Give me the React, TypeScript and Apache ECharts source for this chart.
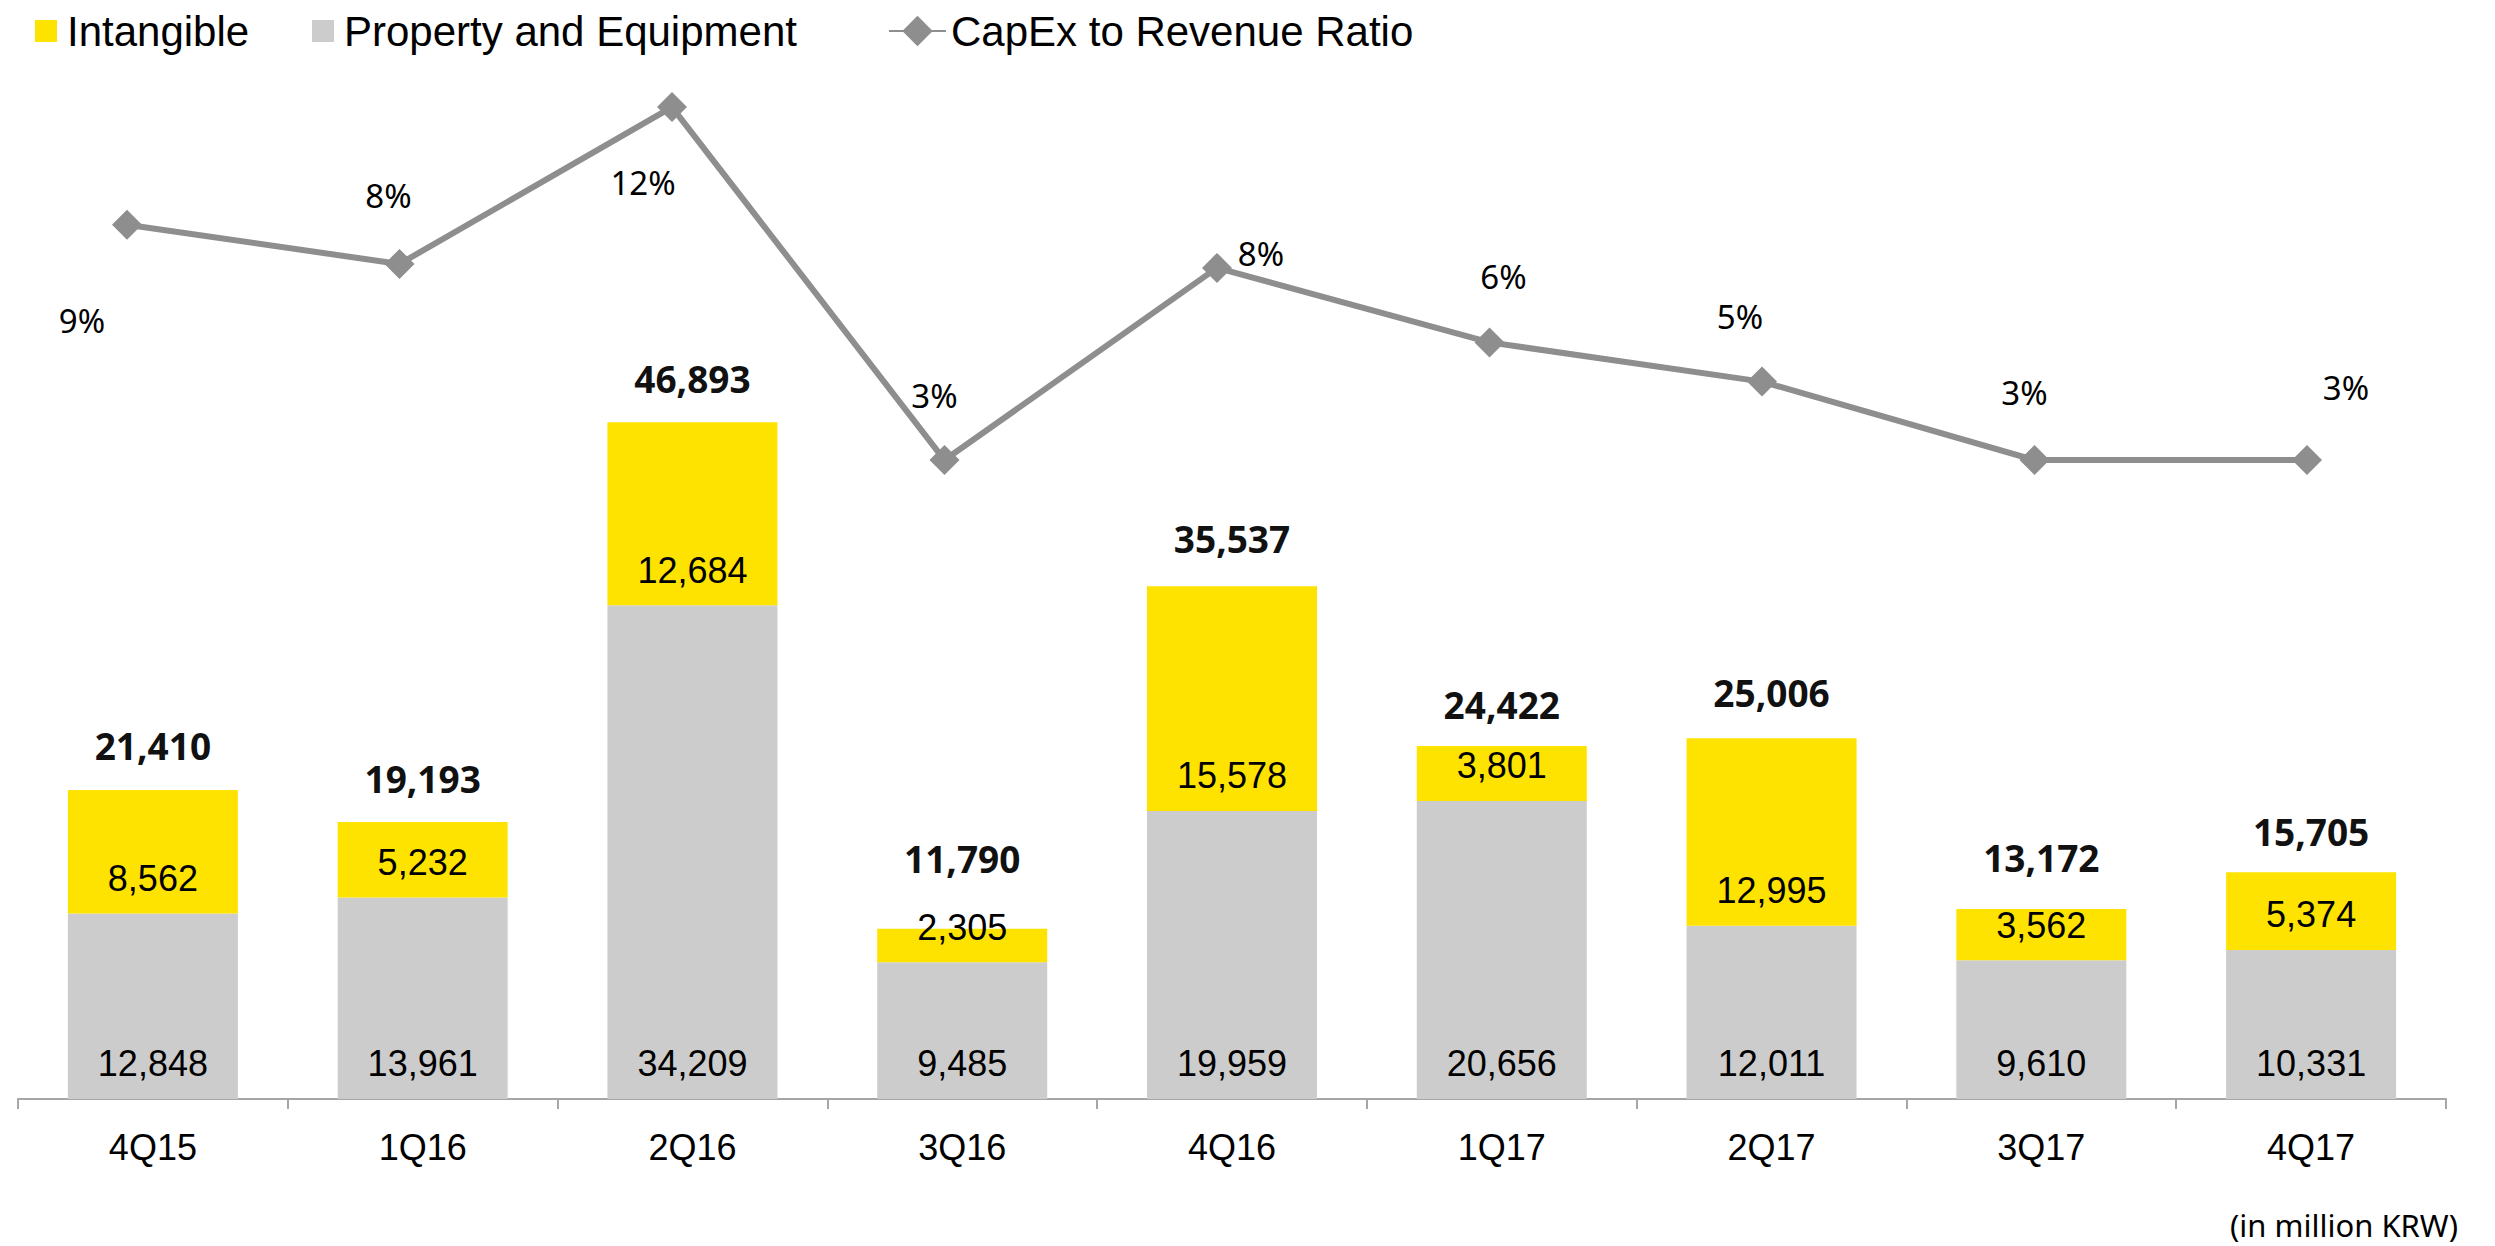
import React, { useEffect, useRef } from "react";
import * as echarts from "echarts";

const categories = ["4Q15", "1Q16", "2Q16", "3Q16", "4Q16", "1Q17", "2Q17", "3Q17", "4Q17"];
const intangible = [8562, 5232, 12684, 2305, 15578, 3801, 12995, 3562, 5374];
const propertyEquipment = [12848, 13961, 34209, 9485, 19959, 20656, 12011, 9610, 10331];
const totals = [21410, 19193, 46893, 11790, 35537, 24422, 25006, 13172, 15705];
const capexRatio = [9, 8, 12, 3, 7.9, 6, 5, 3, 3];

// label placement (style only)
const totalLabelDy = [-45, -44, -44, -70, -48, -42, -46, -51, -41];
const ratioLabelOffset: [number, number][] = [
  [-45, 96], [-11, -68], [-29, 75], [-10, -65], [44, -14],
  [14, -66], [-22, -65], [-10, -68], [39, -73],
];

const ARIAL = "'Liberation Sans', Arial, sans-serif";
const NOTO = "'Noto Sans', 'Open Sans', sans-serif";
const fmt = (v: number) => v.toLocaleString("en-US");

export default function App() {
  const ref = useRef<HTMLDivElement>(null);
  useEffect(() => {
    if (!ref.current) return;
    const chart = echarts.init(ref.current, undefined, { renderer: "svg" });
    const legendText = { fontSize: 42, fontFamily: ARIAL, color: "#000", lineHeight: 44 };
    chart.setOption({
      animation: false,
      backgroundColor: "#fff",
      legend: [
        {
          data: ["Intangible"], left: 35, top: 9, padding: 0, itemGap: 0,
          itemWidth: 22, itemHeight: 22, icon: "rect", selectedMode: false,
          textStyle: { ...legendText, padding: [0, 0, 0, 5] },
        },
        {
          data: ["Property and Equipment"], left: 312, top: 9, padding: 0, itemGap: 0,
          itemWidth: 22, itemHeight: 22, icon: "rect", selectedMode: false,
          textStyle: { ...legendText, padding: [0, 0, 0, 5] },
        },
        {
          data: ["CapEx to Revenue Ratio"], left: 888, top: 9, padding: 0, itemGap: 0,
          itemWidth: 57, itemHeight: 38, selectedMode: false,
          textStyle: { ...legendText },
        },
      ],
      grid: [
        { left: 18, right: 49, top: 60, bottom: 147, containLabel: false },
        { left: 127, right: 188, top: 60, bottom: 147, containLabel: false },
      ],
      xAxis: [
        {
          type: "category", gridIndex: 0, data: categories, boundaryGap: true,
          axisLine: { show: true, lineStyle: { color: "#A6A6A6", width: 2 } },
          axisTick: { show: true, alignWithLabel: false, length: 10, lineStyle: { color: "#A6A6A6", width: 2 } },
          axisLabel: { fontSize: 36, fontFamily: ARIAL, color: "#000", margin: 30 },
        },
        { type: "category", gridIndex: 1, data: categories, boundaryGap: false, show: false },
      ],
      yAxis: [
        { type: "value", gridIndex: 0, min: 0, max: 72000, show: false, splitLine: { show: false } },
        { type: "value", gridIndex: 1, min: -13.29, max: 13.2, show: false, splitLine: { show: false } },
      ],
      series: [
        {
          name: "Property and Equipment", type: "bar", stack: "capex", xAxisIndex: 0, yAxisIndex: 0,
          barWidth: 170, data: propertyEquipment, itemStyle: { color: "#CCCCCC" },
          label: {
            show: true, position: "insideBottom", distance: 18, formatter: (p: any) => fmt(p.value),
            fontSize: 36, fontFamily: ARIAL, color: "#000", lineHeight: 36,
          },
        },
        {
          name: "Intangible", type: "bar", stack: "capex", xAxisIndex: 0, yAxisIndex: 0,
          barWidth: 170, data: intangible, itemStyle: { color: "#FFE300" },
          label: {
            show: true, position: "insideBottom", distance: 17, formatter: (p: any) => fmt(p.value),
            fontSize: 36, fontFamily: ARIAL, color: "#000", lineHeight: 36,
          },
        },
        {
          name: "Total", type: "scatter", xAxisIndex: 0, yAxisIndex: 0, symbolSize: 1, silent: true, z: 5,
          itemStyle: { color: "rgba(255,255,255,0)", opacity: 1 },
          data: totals.map((v, i) => ({
            value: v,
            label: { offset: [0, totalLabelDy[i]] },
          })),
          label: {
            show: true, position: "inside", formatter: (p: any) => fmt(p.value),
            fontSize: 37, fontWeight: "bold", fontFamily: NOTO, color: "#111111",
            opacity: 1, textBorderWidth: 0,
          },
        },
        {
          name: "CapEx to Revenue Ratio", type: "line", xAxisIndex: 1, yAxisIndex: 1, z: 6,
          symbol: "diamond", symbolSize: 30, showAllSymbol: true,
          itemStyle: { color: "#8E8E8E" },
          lineStyle: { color: "#8E8E8E", width: 6 },
          data: capexRatio.map((v, i) => ({
            value: v,
            label: { offset: ratioLabelOffset[i] },
          })),
          label: {
            show: true, position: "inside", formatter: (p: any) => Math.round(p.value) + "%",
            fontSize: 33, fontFamily: NOTO, color: "#000", textBorderWidth: 0,
          },
        },
      ],
      graphic: [
        {
          type: "text", right: 37, top: 1209,
          style: { text: "(in million KRW)", fontSize: 31, fontFamily: NOTO, fill: "#000" },
        },
      ],
    });
    return () => chart.dispose();
  }, []);
  return (
    <div
      ref={ref}
      style={{ position: "absolute", left: 0, top: 0, width: 2495, height: 1246, background: "#fff" }}
    />
  );
}
